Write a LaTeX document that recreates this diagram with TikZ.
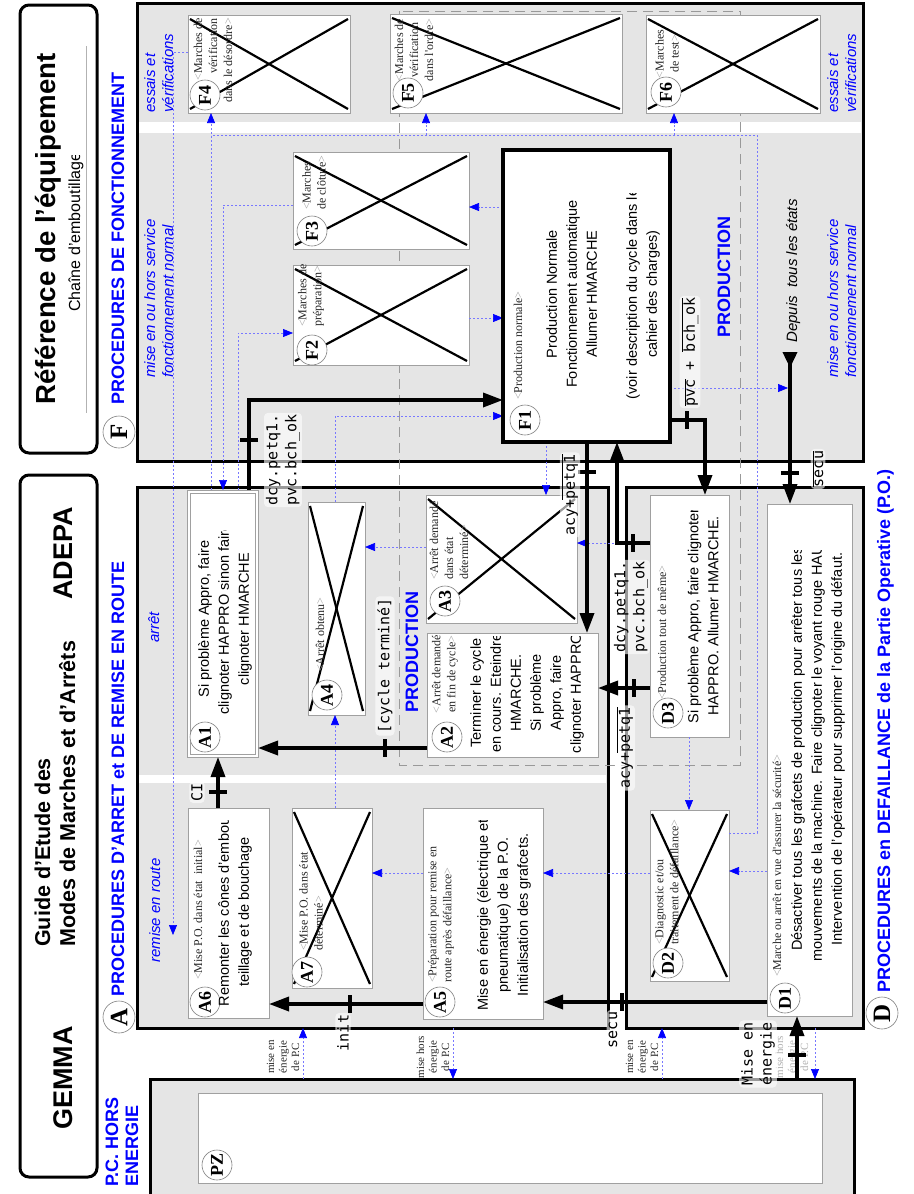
\documentclass[tikz,border=0pt]{standalone}
\usepackage{fontspec}
\setmainfont{Liberation Sans}
\setmonofont{DejaVu Sans Mono}
\newfontfamily\timesf{Liberation Serif}
\usetikzlibrary{arrows.meta,fit}
\definecolor{rg}{RGB}{229,229,229}
\definecolor{bxg}{RGB}{160,160,160}
\definecolor{dblue}{RGB}{120,120,255}
\newcommand\fsz[2]{\fontsize{#1}{#2}\selectfont}
\newcommand\lb{{\color{gray!70}<}}
\newcommand\rb{{\color{gray!70}>}}
\newcommand\crossbox[1]{%
  \draw[xl] ([shift={(2,4)}]#1.north west) -- ([shift={(-2,-4)}]#1.south east);
  \draw[xl] ([shift={(2,-4)}]#1.south west) -- ([shift={(-2,4)}]#1.north east);}
\newcommand\ovl[1]{$\overline{\mbox{#1}}$}
\begin{document}
\begin{tikzpicture}[x=1pt,y=-1pt,
  region/.style={draw=black, line width=3pt, fill=rg, inner sep=0pt, outer sep=0pt},
  tbox/.style={draw=black, line width=3pt, rounded corners=9pt, inner sep=0pt, outer sep=0pt},
  wbox/.style={draw=bxg, line width=1pt, fill=white, inner sep=0pt, outer sep=0pt},
  fbox/.style={draw=black, line width=3.5pt, fill=white, inner sep=0pt, outer sep=0pt},
  xl/.style={line width=2.2pt},
  num/.style={circle, draw=gray, fill=white, line width=0.6pt, minimum size=30pt, inner sep=0pt, rotate=90, font=\timesf\bfseries\fsz{18}{18}},
  secnum/.style={num, minimum size=32pt, font=\timesf\bfseries\fsz{25}{25}},
  rt/.style={rotate=90, inner sep=0pt},
  btxt/.style={rt, align=center, font=\fsz{14.5}{20}},
  sml/.style={rt, font=\timesf\fsz{12}{15}, text=black!85},
  smb/.style={rt, align=center, font=\timesf\fsz{11}{12.5}, text=black!85},
  conn/.style={line width=3.5pt, -{Triangle[length=20pt,width=14pt]}},
  tick/.style={line width=4pt},
  clab/.style={rt, font=\ttfamily\fsz{15}{19}, fill=white, fill opacity=0.6, text opacity=1, rounded corners=4pt, inner sep=2pt, align=left},
  dotl/.style={draw=dblue, line width=0.7pt, dash pattern=on 2pt off 2pt},
  dota/.style={dotl, -{Triangle[length=10pt,width=8pt,color=blue]}},
  btitle/.style={rt, anchor=base west, font=\bfseries\fsz{18}{20}, text=blue},
  bital/.style={rt, anchor=base west, font=\itshape\fsz{15}{18}, text=blue},
  prodbox/.style={draw=gray!80, line width=1pt, dash pattern=on 10pt off 6pt},
]
\useasboundingbox (0,0) rectangle (913,1194);
\fill[white] (0,0) rectangle (913,1194);

% ---------- title boxes
\node[tbox, fit={(20,5) (97,453)}] (T1) {};
\node[tbox, fit={(20,475) (97,1177)}] (T2) {};
\node[rt, anchor=base west, font=\bfseries\fsz{27.6}{30}] at (55,405) {Référence de l'équipement};
\begin{scope}
\clip (60,155) rectangle (95,330);
\node[rt, anchor=base west, font=\fsz{16}{18}] at (80,312) {Chaîne d'emboutillage};
\end{scope}
\draw[gray!60, line width=0.8pt] (86,46) -- (86,413);
\node[rt, anchor=base west, font=\bfseries\fsz{27}{30}] at (72,1130) {GEMMA};
\node[rt, anchor=base west, font=\bfseries\fsz{27}{30}] at (72,600) {ADEPA};
\node[rt, anchor=base west, font=\bfseries\fsz{21.5}{24}] at (50,947) {Guide d'Etude des};
\node[rt, anchor=base west, font=\bfseries\fsz{21.5}{24}] at (75,947) {Modes de Marches et d'Arrêts};

% ---------- regions
\node[region, fit={(137,3) (863,461)}] (FR) {};
\node[region, fit={(137,487) (608,1028)}] (AR) {};
\node[region, fit={(626,487) (863,1028)}] (DR) {};
\node[region, fit={(150,1079) (854,1215)}] (PZR) {};
\fill[white] (138.6,122) rectangle (861.4,133);
\fill[white] (138.6,775) rectangle (606.4,783);
\draw[prodbox] (399,11) rectangle (740,765);

% ---------- section titles
\node[secnum] (cF) at (119,432) {F};
\node[secnum] (cA) at (119,1017) {A};
\node[secnum] (cD) at (882,1013) {D};
\node[btitle] at (124,405) {PROCEDURES DE FONCTIONNEMENT};
\node[btitle] at (124,997) {PROCEDURES D'ARRET et DE REMISE EN ROUTE};
\node[btitle] at (890,993) {PROCEDURES en DEFAILLANCE de la Partie Operative (P.O.)};
\node[btitle] at (118,1187) {P.C. HORS};
\node[btitle] at (138,1187) {ENERGIE};
\node[btitle] at (730,338) {PRODUCTION};
\node[btitle] at (418,713) {PRODUCTION};
\node[bital] at (155,113) {essais et};
\node[bital] at (173,113) {vérifications};
\node[bital] at (838,113) {essais et};
\node[bital] at (856,113) {vérifications};
\node[bital] at (155,378) {mise en ou hors service};
\node[bital] at (173,378) {fonctionnement normal};
\node[bital] at (838,378) {mise en ou hors service};
\node[bital] at (856,378) {fonctionnement normal};
\node[bital] at (159,643) {arrêt};
\node[bital] at (160,963) {remise en route};
\node[rt, anchor=base west, font=\itshape\fsz{15}{18}] at (797,343) {Depuis\ \ tous les états};

% ---------- boxes (nodes)
\path
  node[wbox, fit={(188,15) (350,113)}] (F4) {}
  node[wbox, fit={(390,14) (622,113)}] (F5) {}
  node[wbox, fit={(646,15) (820,113)}] (F6) {}
  node[wbox, fit={(293,152) (469,249)}] (F3) {}
  node[wbox, fit={(293,265) (469,365)}] (F2) {}
  node[wbox, fit={(187,490) (258,757)}] (A1) {}
  node[wbox, fit={(308,502) (365,715)}] (A4) {}
  node[wbox, fit={(426,495) (577,623)}] (A3) {}
  node[wbox, fit={(427,633) (598,757)}] (A2) {}
  node[wbox, fit={(188,808) (269,1018)}] (A6) {}
  node[wbox, fit={(292,808) (372,988)}] (A7) {}
  node[wbox, fit={(423,808) (543,1019)}] (A5) {}
  node[wbox, fit={(650,495) (729,737)}] (D3) {}
  node[wbox, fit={(650,810) (729,981)}] (D2) {}
  node[wbox, fit={(767,504) (852,1016)}] (D1) {}
  node[wbox, fit={(198,1093) (822,1183)}] (PZ) {};
\draw[bxg, line width=0.8pt] (190,493) rectangle (255,754);

% ---------- dotted transitions
\draw[dota] (F4.west |- 0,52) -- (173,52) -- (173,935);
\draw[dota] (A1.north -| 211,0) -- (F4.south -| 211,0);
\draw[dotl] (D2.east |- 0,833) -| (757,135) -- (211,135);
\draw[dota] (426,135) -- (F5.south -| 426,0);
\draw[dota] (674,135) -- (F6.south -| 674,0);
\draw[dota] (F3.west |- 0,205) -| (A1.north -| 223,0);
\draw[dota] (A1.north -| 238,0) |- (F2.west |- 0,333);
\draw[dota] (F2.east |- 0,318) -- (503,318);
\draw[dota] (503,207) -- (F3.east |- 0,207);
\draw[dota] (A4.north -| 335,0) |- (503,416);
\draw[dota] (A7.north -| 335,0) -- (A4.south -| 335,0);
\draw[dota] (A3.west |- 0,547) -- (A4.east |- 0,547);
\draw[dota] (D3.west |- 0,543) -- (A3.east |- 0,543);
\draw[dota] (D3.south -| 689,0) -- (D2.north -| 689,0);
\draw[dota] (D1.west |- 0,871) -- (D2.east |- 0,871);
\draw[dota] (D2.west |- 0,873) -- (A5.east |- 0,873);
\draw[dota] (A5.west |- 0,873) -- (A7.east |- 0,873);
\draw[dota] (PZR.north -| 303,0) -- (AR.south -| 303,0);
\draw[dota] (AR.south -| 453,0) -- (PZR.north -| 453,0);
\draw[dota] (PZR.north -| 662,0) -- (DR.south -| 662,0);
\draw[dota] (DR.south -| 815,0) -- (PZR.north -| 815,0);
\draw[dota] (546,442) -- (A3.north -| 546,0);
\draw[dota] (670,388) -- (788,388);

% ---------- F1 (main box)
\node[fbox, fit={(503,150) (670,442)}] (F1) {};

% crosses
\crossbox{F4}\crossbox{F5}\crossbox{F6}\crossbox{F3}\crossbox{F2}
\crossbox{A4}\crossbox{A3}\crossbox{A7}\crossbox{D2}

% ---------- numbers
\node[num] (nF4) at (205,95) {F4};
\node[num] (nF5) at (408,93) {F5};
\node[num] (nF6) at (666,92) {F6};
\node[num] (nF3) at (312,231) {F3};
\node[num] (nF2) at (312,350) {F2};
\node[num] (nF1) at (525,420) {F1};
\node[num] (nA1) at (205,737) {A1};
\node[num] (nA2) at (447,737) {A2};
\node[num] (nA3) at (445,601) {A3};
\node[num] (nA4) at (327,695) {A4};
\node[num] (nA5) at (440,1002) {A5};
\node[num] (nA6) at (205,1002) {A6};
\node[num] (nA7) at (307,972) {A7};
\node[num] (nD1) at (785,998) {D1};
\node[num] (nD2) at (668,963) {D2};
\node[num] (nD3) at (668,713) {D3};
\node[num] (nPZ) at (217,1165) {PZ};

% ---------- small state labels
\node[sml, align=right, anchor=east] at (213,18) {\lb Marches de\\vérification\\dans le désordre\rb};
\node[sml, align=center] at (414,50) {\lb Marches de\\vérification\\dans l'ordre\rb};
\node[sml, align=center] at (667,54) {\lb Marches\\de test\rb};
\node[sml, align=left, anchor=west] at (314,210) {\lb Marches\\de clôture\rb};
\node[sml, align=left, anchor=west] at (311,327) {\lb Marches de\\préparation\rb};
\node[sml, anchor=west] at (518,400) {\lb Production normale\rb};
\node[sml, align=center] at (445,674) {\lb Arrêt demandé\\en fin de cycle\rb};
\node[sml, align=left, anchor=west] at (449,580) {\lb Arrêt demandé\\dans état\\déterminé\rb};
\node[sml, anchor=west] at (320,672) {\lb Arrêt obtenu\rb};
\node[sml, align=left, anchor=west] at (441,983) {\lb Préparation pour remise en\\route après défaillance\rb};
\node[sml, anchor=west] at (198,980) {\lb Mise P.O. dans état\ \ initial\rb};
\node[sml, align=left, anchor=west] at (311,951) {\lb Mise P.O. dans état\\déterminé\rb};
\node[sml, anchor=west] at (777,977) {\lb Marche ou arrêt en vue d'assurer la sécurité\rb};
\node[sml, align=left, anchor=west] at (667,945) {\lb Diagnostic et/ou\\traitement de défaillance\rb};
\node[sml, anchor=west] at (662,700) {\lb Production tout de même\rb};

% ---------- box texts
\begin{scope}\clip (505,193) rectangle (668,440);
\node[btxt] at (603,294) {Production Normale\\Fonctionnement automatique\\Allumer HMARCHE\\\strut\\(voir description du cycle dans le\\cahier des charges)};
\end{scope}
\begin{scope}\clip (192,530) rectangle (254,752);
\node[btxt] at (225,619) {Si problème Appro, faire\\clignoter HAPPRO sinon faire\\clignoter HMARCHE};
\end{scope}
\begin{scope}\clip (429,636) rectangle (596,755);
\node[btxt] at (527,693) {Terminer le cycle\\en cours. Eteindre\\HMARCHE.\\Si problème\\Appro, faire\\clignoter HAPPRO};
\end{scope}
\begin{scope}\clip (425,820) rectangle (541,1017);
\node[btxt] at (504,915) {Mise en énergie (électrique et\\pneumatique) de la P.O.\\Initialisation des grafcets.};
\end{scope}
\begin{scope}\clip (190,820) rectangle (267,1016);
\node[btxt] at (235,912) {Remonter les cônes d'embou\\teillage et de bouchage};
\end{scope}
\begin{scope}\clip (652,510) rectangle (727,735);
\node[btxt] at (703,616) {Si problème Appro, faire clignoter\\HAPPRO. Allumer HMARCHE.};
\end{scope}
\begin{scope}\clip (769,550) rectangle (850,1014);
\node[btxt] at (818,749) {Désactiver tous les grafcets de production pour arrêter tous les\\mouvements de la machine. Faire clignoter le voyant rouge HAUT\\Intervention de l'opérateur pour supprimer l'origine du défaut.};
\end{scope}

% ---------- P.C. labels
\node[smb] at (283,1057) {mise en\\énergie\\de P.C};
\node[smb] at (433,1057) {mise hors\\énergie\\de P.C};
\node[smb] at (642,1057) {mise en\\énergie\\de P.C};
\node[smb, text=gray!60] at (792,1057) {mise hors\\énergie\\de P.C};

% ---------- thick connectors
\draw[conn] (A1.north -| 249,0) |- (F1.west |- 0,400);
\draw[tick] (240,440) -- (258,440);
\draw[conn] (A2.west |- 0,748) -- (A1.east |- 0,748);
\draw[tick] (385,739) -- (385,757);
\draw[conn] (A6.north -| 218,0) -- (A1.south -| 218,0);
\draw[tick] (209,792) -- (227,792);
\draw[conn] (A5.west |- 0,1004) -- (A6.east |- 0,1004);
\draw[tick] (350,995) -- (350,1013);
\draw[conn] (D1.west |- 0,1002) -- (A5.east |- 0,1002);
\draw[tick] (622,993) -- (622,1011);
\draw[conn] (F1.south -| 587,0) -- (A2.north -| 587,0);
\draw[tick] (578,472) -- (596,472);
\draw[conn] (D3.west |- 0,688) -- (A2.east |- 0,688);
\draw[tick] (634,679) -- (634,697);
\draw[conn] (D3.west |- 0,543) -| (F1.south -| 617,0);
\draw[tick] (633,534) -- (633,552);
\draw[conn] (F1.east |- 0,420) -| (D3.north -| 705,0);
\draw[tick] (687,411) -- (687,429);
\coordinate (dep) at (790,352);
\draw[conn, {Triangle[reversed,length=16pt,width=14pt]}-{Triangle[length=20pt,width=14pt]}] (dep) -- (D1.north -| 790,0);
\draw[tick] (781,473) -- (799,473);
\draw[conn] (PZR.north -| 797,0) -- (D1.south -| 797,0);
\draw[tick] (788,1055) -- (806,1055);

% ---------- connector labels
\node[clab] at (283,460) {dcy.petq1.\\pvc.bch\_ok};
\node[clab] at (385,666) {[cycle terminé]};
\node[clab] at (197,792) {CI};
\node[clab] at (343,1033) {init};
\node[clab] at (613,1030) {secu};
\node[clab] at (570,495) {acy+\ovl{petq1}};
\node[clab] at (625,748) {acy+\ovl{petq1}};
\node[clab] at (631,607) {dcy.petq1.\\pvc.bch\_ok};
\node[clab] at (690,352) {\ovl{pvc} + \ovl{bch\_ok}};
\node[clab] at (818,469) {\ovl{secu}};
\node[clab] at (758,1054) {Mise en\\énergie};
\end{tikzpicture}
\end{document}
